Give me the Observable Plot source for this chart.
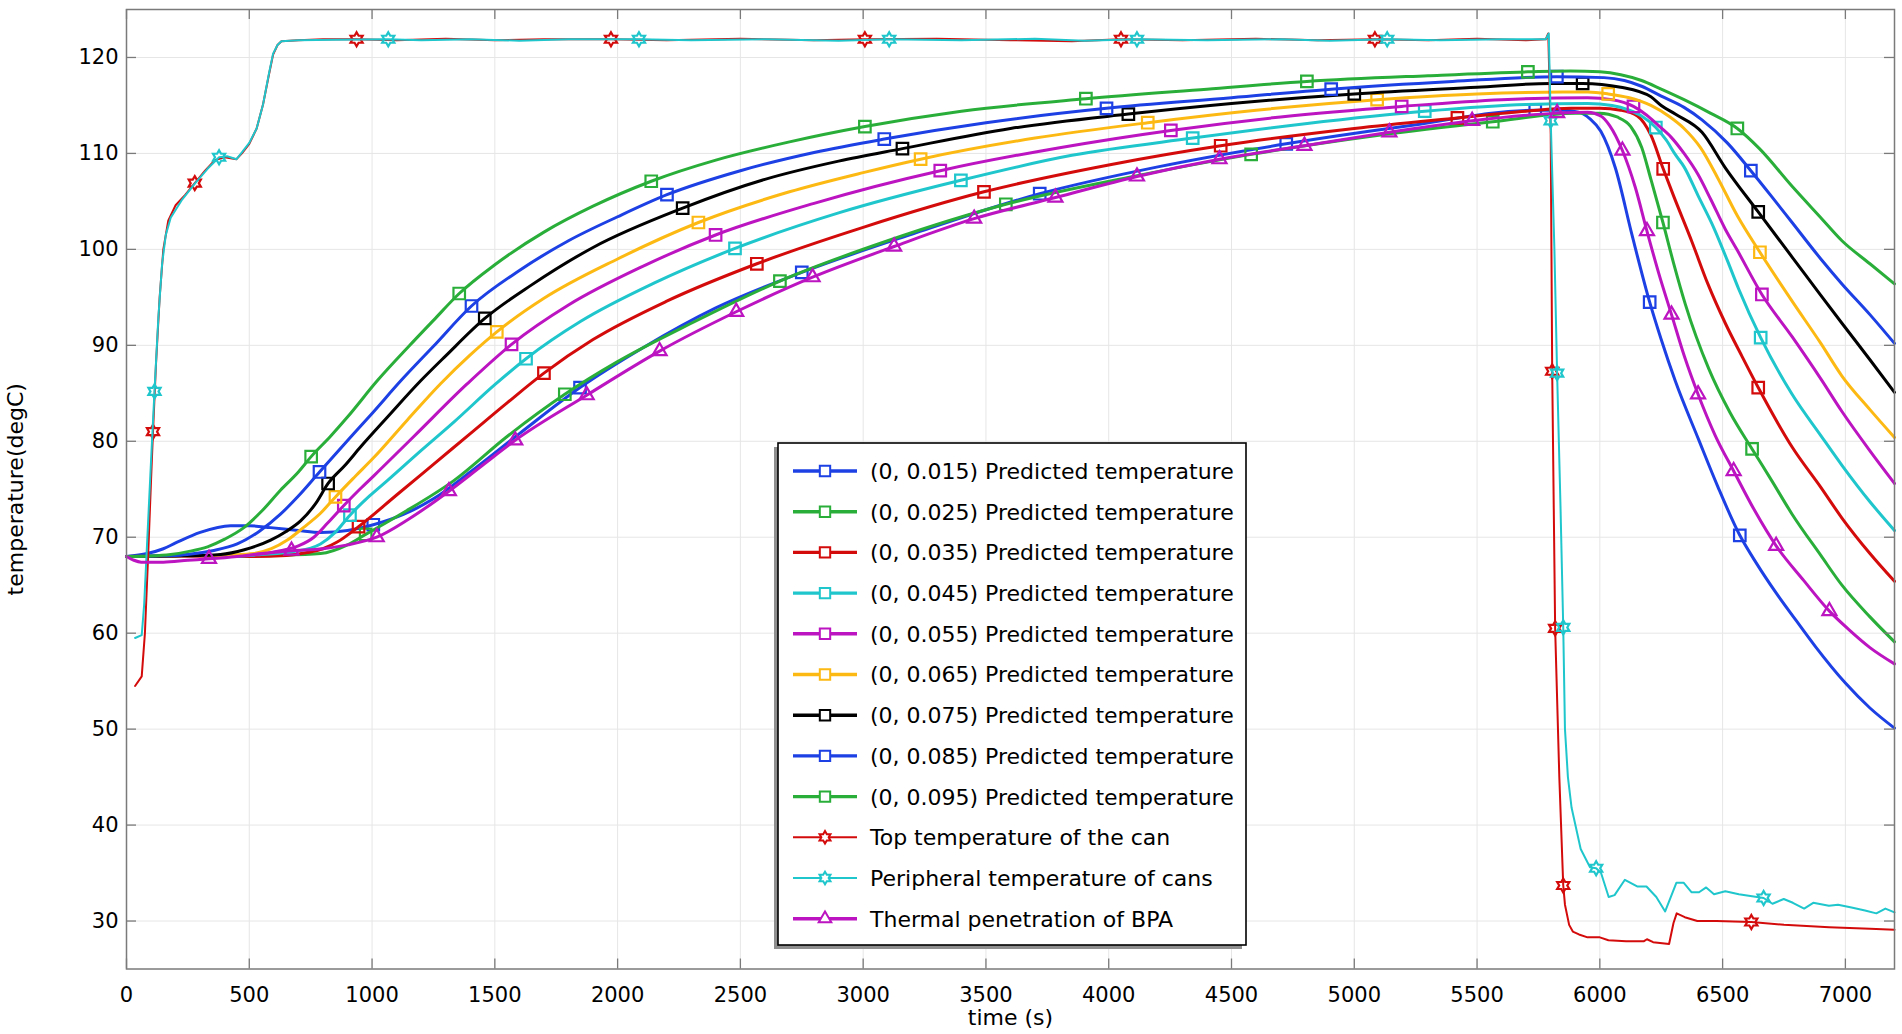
<!DOCTYPE html>
<html><head><meta charset="utf-8">
<script src="https://cdn.jsdelivr.net/npm/d3@7"></script>
<script src="https://cdn.jsdelivr.net/npm/@observablehq/plot@0.6"></script>
<style>
html,body{margin:0;padding:0;background:#fff;}
#wrap{position:relative;width:1902px;height:1034px;overflow:hidden;}
#wrap svg{display:block;}
#legend{position:absolute;left:0;top:0;pointer-events:none;}
</style></head><body><div id="wrap"></div>
<script>
// ---------- data (time s, temperature degC) ----------
const xTicks = [0,500,1000,1500,2000,2500,3000,3500,4000,4500,5000,5500,6000,6500,7000];
const yTicks = [30,40,50,60,70,80,90,100,110,120];

const seriesLabels = [
  "(0, 0.015) Predicted temperature","(0, 0.025) Predicted temperature","(0, 0.035) Predicted temperature",
  "(0, 0.045) Predicted temperature","(0, 0.055) Predicted temperature","(0, 0.065) Predicted temperature",
  "(0, 0.075) Predicted temperature","(0, 0.085) Predicted temperature","(0, 0.095) Predicted temperature",
  "Top temperature of the can","Peripheral temperature of cans","Thermal penetration of BPA"
];

const c015 = [[0,68.0],[84,68.3],[150,68.8],[200,69.4],[300,70.5],[424,71.2],[500,71.2],[587,71.0],[700,70.7],[790,70.5],[900,70.7],[1005,71.3],[1130,72.4],[1250,74.0],[1400,76.8],[1600,80.8],[1847,85.6],[2100,89.7],[2400,93.9],[2750,97.6],[3200,101.6],[3719,105.8],[4200,108.6],[4723,111.0],[5200,112.8],[5737,114.5],[5850,114.5],[5913,114.3],[5960,113.6],[6004,112.3],[6063,108.5],[6131,101.5],[6203,94.5],[6250,90.6],[6307,86.3],[6402,80.2],[6480,75.3],[6570,70.2],[6640,67.2],[6715,64.3],[6800,61.3],[6878,58.6],[7000,54.8],[7100,52.2],[7200,50.1]];
const c025 = [[0,68.0],[400,68.0],[600,68.1],[790,68.3],[900,69.2],[974,70.3],[1050,71.4],[1130,72.6],[1333,75.9],[1550,80.5],[1785,84.9],[2000,88.3],[2300,92.3],[2661,96.7],[3100,100.9],[3581,104.7],[4100,107.6],[4580,109.9],[5100,111.9],[5564,113.3],[5900,114.2],[6000,114.2],[6070,113.8],[6126,112.8],[6171,110.6],[6208,107.3],[6257,102.8],[6300,98.6],[6348,94.3],[6443,87.6],[6530,83.0],[6620,79.2],[6700,75.9],[6783,72.4],[6900,68.1],[6986,65.0],[7100,61.7],[7200,59.1]];
const c035 = [[0,68.0],[500,68.0],[650,68.1],[736,68.4],[800,68.8],[858,69.5],[945,71.1],[1100,74.4],[1250,77.6],[1400,80.8],[1550,84.0],[1700,87.1],[1900,90.6],[2200,94.6],[2567,98.5],[3000,102.3],[3492,106.0],[4000,108.8],[4456,110.8],[5000,112.6],[5420,113.7],[5700,114.4],[5882,114.7],[6000,114.7],[6085,114.5],[6153,113.9],[6208,111.9],[6258,108.4],[6300,105.6],[6375,100.8],[6440,96.4],[6511,92.3],[6580,88.8],[6645,85.6],[6783,79.4],[6900,75.2],[6986,72.0],[7100,68.3],[7200,65.4]];
const c045 = [[0,68.0],[400,68.0],[550,68.2],[682,68.5],[790,69.3],[850,70.5],[910,72.3],[990,74.3],[1062,75.9],[1198,79.0],[1333,82.0],[1500,85.9],[1627,88.6],[1850,92.5],[2150,96.5],[2478,100.1],[2900,103.8],[3398,107.2],[3850,109.8],[4342,111.6],[4800,113.1],[5287,114.4],[5700,115.1],[5950,115.2],[6050,115.0],[6120,114.5],[6170,113.9],[6228,112.7],[6270,111.4],[6307,109.9],[6343,108.6],[6400,105.6],[6465,102.2],[6520,98.8],[6565,95.9],[6655,90.8],[6783,84.9],[6900,80.6],[6986,77.5],[7100,73.7],[7200,70.7]];
const c055 = [[0,68.0],[300,68.0],[480,68.1],[627,68.6],[700,69.1],[763,70.0],[820,71.5],[885,73.3],[950,75.0],[1007,76.4],[1170,80.5],[1388,86.0],[1568,90.1],[1800,94.2],[2100,98.2],[2399,101.5],[2800,104.8],[3314,108.2],[3800,110.6],[4253,112.4],[4700,113.8],[5193,114.9],[5600,115.6],[5950,115.8],[6050,115.6],[6137,114.9],[6190,114.0],[6239,112.9],[6290,111.7],[6343,110.0],[6400,107.8],[6452,105.2],[6511,102.1],[6560,99.9],[6660,95.3],[6783,90.9],[6900,86.5],[6986,83.1],[7100,79.0],[7200,75.6]];
const c065 = [[0,68.0],[300,68.05],[420,68.15],[519,68.3],[590,68.8],[655,69.7],[720,71.0],[790,72.5],[851,74.2],[930,76.3],[1007,78.3],[1143,82.2],[1279,86.0],[1400,89.0],[1508,91.4],[1700,94.9],[2000,99.0],[2329,102.8],[2700,106.0],[3000,108.0],[3234,109.4],[3700,111.6],[4159,113.2],[4600,114.5],[5093,115.6],[5500,116.2],[5850,116.4],[5950,116.4],[6034,116.2],[6120,115.8],[6208,115.0],[6280,113.9],[6343,112.6],[6410,110.6],[6479,107.5],[6560,103.5],[6652,99.7],[6783,94.6],[6900,90.2],[6986,86.8],[7100,83.3],[7200,80.4]];
const c075 = [[0,68.0],[200,68.05],[300,68.1],[383,68.2],[480,68.7],[587,69.7],[650,70.6],[709,71.7],[770,73.5],[821,75.6],[890,77.5],[953,79.4],[1062,82.5],[1198,86.3],[1300,88.9],[1459,92.8],[1650,96.3],[1900,100.2],[2265,104.3],[2600,107.3],[2900,109.2],[3160,110.5],[3600,112.6],[4080,114.1],[4500,115.2],[5000,116.2],[5500,116.9],[5800,117.3],[5930,117.3],[6085,116.9],[6208,115.9],[6250,115.0],[6307,114.1],[6416,112.2],[6511,108.5],[6645,103.9],[6783,99.2],[6900,95.2],[6986,92.3],[7100,88.5],[7200,85.1]];
const c085 = [[0,68.0],[100,68.05],[200,68.1],[247,68.2],[350,68.6],[451,69.3],[540,70.6],[627,72.4],[700,74.3],[786,76.8],[926,80.8],[1000,82.9],[1117,86.3],[1250,89.9],[1405,94.1],[1600,97.8],[1800,100.9],[2000,103.4],[2201,105.7],[2500,108.2],[2800,110.1],[3086,111.5],[3500,113.2],[3991,114.7],[4500,115.8],[4906,116.7],[5400,117.5],[5825,118.0],[6017,117.9],[6100,117.6],[6170,117.0],[6248,116.0],[6343,114.8],[6416,113.5],[6519,111.1],[6615,108.2],[6700,105.5],[6783,102.8],[6900,99.0],[6986,96.4],[7100,93.2],[7200,90.2]];
const c095 = [[0,68.0],[100,68.05],[180,68.2],[250,68.5],[330,69.0],[400,69.8],[478,71.0],[550,72.7],[627,74.9],[700,76.8],[752,78.4],[830,80.5],[899,82.5],[1021,86.3],[1150,89.9],[1250,92.6],[1355,95.4],[1500,98.4],[1700,101.8],[1900,104.5],[2137,107.1],[2400,109.3],[2700,111.2],[3007,112.8],[3400,114.4],[3907,115.7],[4400,116.7],[4807,117.5],[5300,118.1],[5707,118.5],[5880,118.6],[6000,118.5],[6085,118.2],[6170,117.6],[6250,116.7],[6343,115.6],[6450,114.2],[6560,112.6],[6650,110.5],[6782,106.6],[6900,103.3],[6986,100.9],[7100,98.5],[7200,96.4]];

const m015 = [[1005,71.3],[1847,85.6],[2750,97.6],[3719,105.8],[4723,111.0],[5737,114.5],[6203,94.5],[6570,70.2]];
const m025 = [[974,70.3],[1785,84.9],[2661,96.7],[3581,104.7],[4580,109.9],[5564,113.3],[6257,102.8],[6620,79.2]];
const m035 = [[945,71.1],[1700,87.1],[2567,98.5],[3492,106.0],[4456,110.8],[5420,113.7],[6258,108.4],[6645,85.6]];
const m045 = [[910,72.3],[1627,88.6],[2478,100.1],[3398,107.2],[4342,111.6],[5287,114.4],[6228,112.7],[6655,90.8]];
const m055 = [[885,73.3],[1568,90.1],[2399,101.5],[3314,108.2],[4253,112.4],[5193,114.9],[6137,114.9],[6660,95.3]];
const m065 = [[851,74.2],[1508,91.4],[2329,102.8],[3234,109.4],[4159,113.2],[5093,115.6],[6034,116.2],[6652,99.7]];
const m075 = [[821,75.6],[1459,92.8],[2265,104.3],[3160,110.5],[4080,114.1],[5000,116.2],[5930,117.3],[6645,103.9]];
const m085 = [[786,76.8],[1405,94.1],[2201,105.7],[3086,111.5],[3991,114.7],[4906,116.7],[5825,118.0],[6615,108.2]];
const m095 = [[752,78.4],[1355,95.4],[2137,107.1],[3007,112.8],[3907,115.7],[4807,117.5],[5707,118.5],[6560,112.6]];

const topTemp = [[35,54.5],[62,55.5],[75,60],[88,68],[100,76],[108,81.0],[120,88],[135,95],[150,100],[170,103],[200,104.6],[240,105.7],[278,106.9],[320,108.2],[360,109.3],[400,109.6],[448,109.4],[470,110.0],[500,111.0],[530,112.6],[556,115.1],[580,118.2],[597,120.3],[615,121.3],[631,121.7],[700,121.8],[800,121.9],[937,121.9],[1100,121.8],[1300,121.95],[1500,121.8],[1700,121.9],[1973,121.9],[2200,121.8],[2500,121.95],[2800,121.8],[3007,121.9],[3300,121.95],[3600,121.8],[3850,121.7],[4050,121.9],[4300,121.8],[4600,121.95],[4850,121.8],[5084,121.9],[5300,121.8],[5500,121.95],[5700,121.8],[5780,121.9],[5790,122.5],[5800,112],[5806,87.3],[5818,60.5],[5835,45],[5851,33.7],[5858,31.7],[5875,29.6],[5890,28.9],[5915,28.6],[5950,28.3],[6000,28.3],[6035,28.0],[6107,27.9],[6180,27.9],[6192,28.1],[6217,27.8],[6282,27.6],[6300,29.8],[6313,30.8],[6346,30.4],[6397,30.0],[6475,30.0],[6617,29.9],[6750,29.6],[6934,29.35],[7100,29.2],[7200,29.1]];
const periTemp = [[35,59.5],[62,59.8],[72,63],[85,70],[100,78],[114,85.2],[130,93],[145,98.5],[160,101.5],[180,103.3],[224,105.1],[280,106.9],[330,108.4],[377,109.6],[410,109.7],[448,109.4],[470,110.1],[500,111.1],[530,112.6],[556,115.1],[580,118.3],[597,120.4],[615,121.3],[631,121.7],[700,121.8],[850,121.85],[1066,121.9],[1200,121.8],[1400,121.9],[1600,121.75],[1800,121.9],[2087,121.9],[2300,121.8],[2600,121.9],[2900,121.75],[3106,121.9],[3400,121.8],[3700,121.95],[3900,121.75],[4115,121.9],[4400,121.8],[4700,121.9],[4900,121.75],[5134,121.9],[5350,121.8],[5600,121.9],[5780,121.9],[5792,122.5],[5800,113.4],[5815,100],[5826,87.1],[5840,73],[5851,60.6],[5858,50],[5870,45],[5885,41.8],[5922,37.5],[5960,35.6],[5985,35.5],[6005,35.0],[6036,32.5],[6060,32.7],[6102,34.3],[6152,33.6],[6190,33.6],[6230,32.5],[6266,31.0],[6312,34.0],[6341,34.0],[6373,33.0],[6404,33.0],[6433,33.5],[6465,32.8],[6511,33.1],[6566,32.8],[6667,32.4],[6703,31.8],[6749,32.3],[6786,31.9],[6832,31.3],[6869,31.9],[6933,31.6],[6970,31.7],[7025,31.4],[7080,31.1],[7126,30.8],[7163,31.3],[7200,30.9]];
const bpaTemp = [[0,68.0],[30,67.6],[60,67.4],[150,67.4],[250,67.6],[336,67.75],[450,68.0],[550,68.3],[672,68.6],[800,68.8],[900,69.2],[1019,70.0],[1150,71.9],[1313,74.8],[1450,77.5],[1583,80.1],[1874,84.8],[2171,89.4],[2483,93.5],[2794,97.1],[3126,100.3],[3452,103.2],[3783,105.4],[4115,107.6],[4451,109.4],[4797,110.8],[5143,112.2],[5480,113.4],[5826,114.2],[5950,114.3],[6004,113.9],[6040,112.9],[6092,110.3],[6144,106.5],[6192,101.9],[6240,97.5],[6292,93.2],[6345,88.8],[6400,84.9],[6470,80.6],[6545,76.9],[6630,72.8],[6718,69.1],[6830,65.5],[6935,62.3],[7013,60.4],[7100,58.5],[7200,56.8]];

const topMarks = [[108,81.0],[278,106.9],[937,121.9],[1973,121.9],[3007,121.9],[4050,121.9],[5084,121.9],[5806,87.3],[5818,60.5],[5851,33.7],[6617,29.9]];
const periMarks = [[114,85.2],[377,109.6],[1066,121.9],[2087,121.9],[3106,121.9],[4115,121.9],[5134,121.9],[5800,113.4],[5826,87.1],[5851,60.6],[5985,35.5],[6667,32.4]];
const bpaMarks = [[336,67.75],[672,68.6],[1019,70.0],[1313,74.8],[1583,80.1],[1874,84.8],[2171,89.4],[2483,93.5],[2794,97.1],[3126,100.3],[3452,103.2],[3783,105.4],[4115,107.6],[4451,109.4],[4797,110.8],[5143,112.2],[5480,113.4],[5826,114.2],[6092,110.3],[6192,101.9],[6292,93.2],[6400,84.9],[6545,76.9],[6718,69.1],[6935,62.3]];

// ---------- styles ----------
const BLUE="#1c40e4", GREEN="#2aae3a", RED="#d40b0b", CYAN="#1fc6cc", MAG="#bb14c0", YEL="#fdb913", BLK="#000000";

const hexagram = {draw(ctx, size){
  const R = Math.sqrt(size/Math.PI), r = R/Math.sqrt(3);
  for (let i=0;i<12;i++){ const a=-Math.PI/2+i*Math.PI/6, rad=i%2?r:R;
    const x=rad*Math.cos(a), y=rad*Math.sin(a); if(i) ctx.lineTo(x,y); else ctx.moveTo(x,y);}
  ctx.closePath();
}};

const series = [
  {label:seriesLabels[0], line:c015, marks:m015, color:BLUE, sym:"square", d3sym:d3.symbolSquare, r:6.5, w:3},
  {label:seriesLabels[1], line:c025, marks:m025, color:GREEN, sym:"square", d3sym:d3.symbolSquare, r:6.5, w:3},
  {label:seriesLabels[2], line:c035, marks:m035, color:RED, sym:"square", d3sym:d3.symbolSquare, r:6.5, w:3},
  {label:seriesLabels[3], line:c045, marks:m045, color:CYAN, sym:"square", d3sym:d3.symbolSquare, r:6.5, w:3},
  {label:seriesLabels[4], line:c055, marks:m055, color:MAG, sym:"square", d3sym:d3.symbolSquare, r:6.5, w:3},
  {label:seriesLabels[5], line:c065, marks:m065, color:YEL, sym:"square", d3sym:d3.symbolSquare, r:6.5, w:3},
  {label:seriesLabels[6], line:c075, marks:m075, color:BLK, sym:"square", d3sym:d3.symbolSquare, r:6.5, w:3},
  {label:seriesLabels[7], line:c085, marks:m085, color:BLUE, sym:"square", d3sym:d3.symbolSquare, r:6.5, w:3},
  {label:seriesLabels[8], line:c095, marks:m095, color:GREEN, sym:"square", d3sym:d3.symbolSquare, r:6.5, w:3},
  {label:seriesLabels[9], line:topTemp, marks:topMarks, color:RED, sym:hexagram, d3sym:hexagram, r:7, w:2, linear:true},
  {label:seriesLabels[10], line:periTemp, marks:periMarks, color:CYAN, sym:hexagram, d3sym:hexagram, r:7, w:2, linear:true},
  {label:seriesLabels[11], line:bpaTemp, marks:bpaMarks, color:MAG, sym:"triangle", d3sym:d3.symbolTriangle, r:5.2, w:3}
];

const W=1902, H=1034, mL=126, mR=8, mT=9, mB=65.5;
const plotW=W-mL-mR, plotH=H-mT-mB, tickLen=10, AX="#7a7a7a";
const X = d=>d[0], Y = d=>d[1];

const chart = Plot.plot({
  width:W, height:H, marginLeft:mL, marginRight:mR, marginTop:mT, marginBottom:mB,
  style:{fontFamily:"'DejaVu Sans', sans-serif", fontSize:"21px", color:"#000", background:"#fff", overflow:"visible"},
  x:{domain:[0,7200]},
  y:{domain:[25,125]},
  marks:[
    Plot.gridX(xTicks, {stroke:"#e6e6e6", strokeOpacity:1, strokeWidth:1}),
    Plot.gridY(yTicks, {stroke:"#e6e6e6", strokeOpacity:1, strokeWidth:1}),
    ...series.flatMap(s => [
      Plot.line(s.line, {x:X, y:Y, stroke:s.color, strokeWidth:s.w, curve: s.linear ? "linear" : "monotone-x", strokeLinejoin:"round"}),
      Plot.dot(s.marks, {x:X, y:Y, symbol:s.sym, r:s.r, stroke:s.color, strokeWidth:2.2, fill:"none"})
    ]),
    Plot.frame({stroke:AX, strokeWidth:1.5}),
    Plot.tickX(xTicks, {x:d=>d, insetTop:plotH-tickLen, stroke:AX, strokeWidth:1.3}),
    Plot.tickX(xTicks, {x:d=>d, insetBottom:plotH-tickLen, stroke:AX, strokeWidth:1.3}),
    Plot.tickY(yTicks, {y:d=>d, insetRight:plotW-tickLen, stroke:AX, strokeWidth:1.3}),
    Plot.tickY(yTicks, {y:d=>d, insetLeft:plotW-tickLen, stroke:AX, strokeWidth:1.3}),
    Plot.axisX(xTicks, {tickSize:0, tickPadding:18, label:null, fontSize:21, tickFormat:d=>String(d)}),
    Plot.axisY(yTicks, {tickSize:0, tickPadding:8, label:null, fontSize:21, tickFormat:d=>String(d)}),
    Plot.text(["time (s)"], {text:d=>d, frameAnchor:"bottom", dy:49, lineAnchor:"middle", textAnchor:"middle", fontSize:22}),
    Plot.text(["temperature(degC)"], {text:d=>d, frameAnchor:"left", dx:-111, rotate:-90, lineAnchor:"middle", textAnchor:"middle", fontSize:22})
  ]
});
document.getElementById("wrap").appendChild(chart);

// ---------- legend overlay ----------
const lg = d3.select("#wrap").append("svg").attr("id","legend").attr("width",W).attr("height",H)
  .style("font-family","'DejaVu Sans', sans-serif");
const bx=778, by=443, bw=468, bh=502;
lg.append("rect").attr("x",bx-4).attr("y",by+4).attr("width",bw).attr("height",bh).attr("fill","#8f8f8f");
lg.append("rect").attr("x",bx).attr("y",by).attr("width",bw).attr("height",bh).attr("fill","#fff").attr("stroke","#000").attr("stroke-width",1.6);
series.forEach((s,i)=>{
  const cy = 471 + i*40.7;
  const g = lg.append("g");
  g.append("line").attr("x1",793).attr("x2",857).attr("y1",cy).attr("y2",cy).attr("stroke",s.color).attr("stroke-width",s.w===3?3.4:2);
  g.append("path").attr("transform",`translate(825,${cy})`)
    .attr("d", d3.symbol(s.d3sym, Math.PI*(s.r*0.9)*(s.r*0.9))())
    .attr("fill","#fff").attr("stroke",s.color).attr("stroke-width",2);
  g.append("text").attr("x",870).attr("y",cy).attr("dy","0.36em").attr("font-size",22).attr("fill","#000").text(s.label);
});
</script>
</body></html>
